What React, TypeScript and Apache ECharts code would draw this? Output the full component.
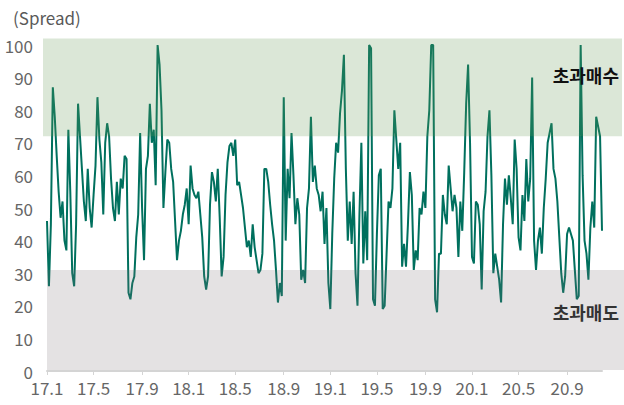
import { useEffect, useRef } from "react";
import * as echarts from "echarts";

const START_DATE = "2017-01-02";
const STEP_DAYS = 5;
const LABEL_MONTHS = [1, 5, 9];
const Y_MIN = 0;
const Y_MAX = 100;
const Y_INTERVAL = 10;
const OVERBOUGHT_BAND = [72, 102];
const OVERSOLD_BAND = [0, 31];
const UNIT_LABEL = "(Spread)";
const OVERBOUGHT_LABEL = "초과매수";
const OVERSOLD_LABEL = "초과매도";

const SPREAD = [
  46, 26, 45, 87, 78, 66, 55, 47, 52, 40,
  37, 74, 55, 30, 26, 45, 82, 72, 62, 52,
  46, 62, 50, 44, 54, 63, 84, 71, 64, 48,
  70, 76, 72, 59, 50, 46, 58, 48, 59, 56,
  66, 65, 24, 22, 27, 29, 41, 48, 73, 50,
  34, 62, 66, 82, 70, 74, 57, 100, 94, 80,
  50, 61, 71, 70, 62, 58, 46, 34, 40, 43,
  48, 51, 56, 45, 63, 56, 54, 53, 55, 48,
  41, 29, 25, 29, 51, 61, 58, 52, 62, 47,
  29, 35, 54, 64, 69, 70, 66, 71, 57, 58,
  54, 50, 44, 38, 40, 35, 45, 38, 34, 30,
  31, 36, 62, 62, 58, 51, 45, 40, 31, 21,
  27, 23, 84, 40, 62, 53, 73, 60, 45, 53,
  48, 28, 31, 27, 50, 56, 78, 58, 63, 56,
  54, 49, 55, 39, 50, 27, 19, 42, 59, 70,
  67, 79, 86, 97, 62, 40, 52, 39, 55, 30,
  20, 48, 70, 33, 49, 34, 100, 99, 22, 20,
  42, 60, 62, 19, 20, 36, 52, 50, 56, 80,
  71, 62, 70, 32, 39, 32, 45, 61, 54, 31,
  37, 34, 50, 48, 55, 50, 72, 80, 100, 100,
  22, 18, 36, 36, 54, 48, 45, 63, 56, 49,
  54, 50, 35, 52, 43, 61, 82, 94, 70, 35,
  33, 52, 51, 45, 25, 49, 55, 72, 80, 60,
  30, 36, 32, 28, 21, 45, 59, 51, 60, 53,
  45, 71, 62, 41, 37, 54, 46, 65, 52, 59,
  90, 40, 31, 40, 44, 36, 50, 59, 70, 73,
  76, 62, 59, 52, 41, 30, 24, 29, 42, 44,
  42, 40, 31, 22, 23, 100, 60, 40, 36, 28,
  44, 52, 44, 78, 75, 72, 43,
];

function buildCategories(n: number): string[] {
  const out: string[] = [];
  const start = new Date(START_DATE + "T00:00:00Z").getTime();
  for (let i = 0; i < n; i++) {
    const d = new Date(start + i * STEP_DAYS * 86400000);
    out.push(d.toISOString().slice(0, 10));
  }
  return out;
}

const CATEGORIES = buildCategories(SPREAD.length);

function labelIndexSet(cats: string[]): Set<number> {
  const s = new Set<number>();
  let prevMonth = -1;
  cats.forEach((c, i) => {
    const m = parseInt(c.slice(5, 7), 10);
    if (m !== prevMonth && LABEL_MONTHS.includes(m)) s.add(i);
    prevMonth = m;
  });
  return s;
}

const LABEL_IDX = labelIndexSet(CATEGORIES);

const FONT = "'Noto Sans CJK KR', 'Noto Sans', sans-serif";

export default function App() {
  const ref = useRef<HTMLDivElement>(null);
  useEffect(() => {
    if (!ref.current) return;
    const chart = echarts.init(ref.current, undefined, { renderer: "svg" });
    chart.setOption({
      animation: false,
      grid: { left: 47, right: 22, top: 45, bottom: 34, containLabel: false },
      xAxis: {
        type: "category",
        data: CATEGORIES,
        boundaryGap: false,
        axisLine: { lineStyle: { color: "#d4d4d4", width: 2 } },
        axisTick: {
          show: true,
          length: 4,
          interval: (i: number) => LABEL_IDX.has(i),
          lineStyle: { color: "#d4d4d4", width: 1 },
        },
        axisLabel: {
          interval: (i: number) => LABEL_IDX.has(i),
          formatter: (v: string) => `${v.slice(2, 4)}.${parseInt(v.slice(5, 7), 10)}`,
          color: "#666666",
          fontSize: 17,
          fontFamily: FONT,
          margin: 8,
        },
        splitLine: { show: false },
      },
      yAxis: {
        type: "value",
        min: Y_MIN,
        max: Y_MAX,
        interval: Y_INTERVAL,
        axisLine: { show: false },
        axisTick: { show: false },
        splitLine: { show: false },
        axisLabel: { color: "#666666", fontSize: 17, fontFamily: FONT, margin: 14 },
      },
      series: [
        {
          type: "line",
          data: SPREAD,
          symbol: "none",
          z: 2,
          lineStyle: { color: "#00705e", width: 2 },
        },
      ],
    });

    const yPx = (v: number) => chart.convertToPixel({ yAxisIndex: 0 }, v) as number;
    const xStart = chart.convertToPixel({ xAxisIndex: 0 }, 0) as number;
    const gTop = yPx(OVERBOUGHT_BAND[1]);
    const gBot = yPx(OVERBOUGHT_BAND[0]);
    const sTop = yPx(OVERSOLD_BAND[1]);
    const sBot = yPx(OVERSOLD_BAND[0]);

    chart.setOption({
      graphic: [
        {
          type: "rect",
          z: 10,
          silent: true,
          shape: { x: xStart - 4, y: gTop, width: 622 - (xStart - 4), height: gBot - gTop },
          style: { fill: "rgba(100,150,80,0.23)" },
        },
        {
          type: "rect",
          z: 10,
          silent: true,
          shape: { x: xStart, y: sTop, width: 624 - xStart, height: sBot - sTop - 1 },
          style: { fill: "rgba(120,112,116,0.2)" },
        },
        {
          type: "text",
          z: 20,
          x: 13,
          y: 17,
          style: {
            text: UNIT_LABEL,
            fill: "#595959",
            font: `17px ${FONT}`,
            textVerticalAlign: "middle",
            textAlign: "left",
          },
        },
        {
          type: "text",
          z: 20,
          x: 619,
          y: 75,
          style: {
            text: OVERBOUGHT_LABEL,
            fill: "#111111",
            font: `bold 18px ${FONT}`,
            textVerticalAlign: "middle",
            textAlign: "right",
          },
        },
        {
          type: "text",
          z: 20,
          x: 619,
          y: 312,
          style: {
            text: OVERSOLD_LABEL,
            fill: "#333333",
            font: `bold 18px ${FONT}`,
            textVerticalAlign: "middle",
            textAlign: "right",
          },
        },
      ],
    });

    return () => chart.dispose();
  }, []);
  return (
    <div
      ref={ref}
      style={{ position: "fixed", left: 0, top: 0, width: 624, height: 405, background: "#ffffff" }}
    />
  );
}
